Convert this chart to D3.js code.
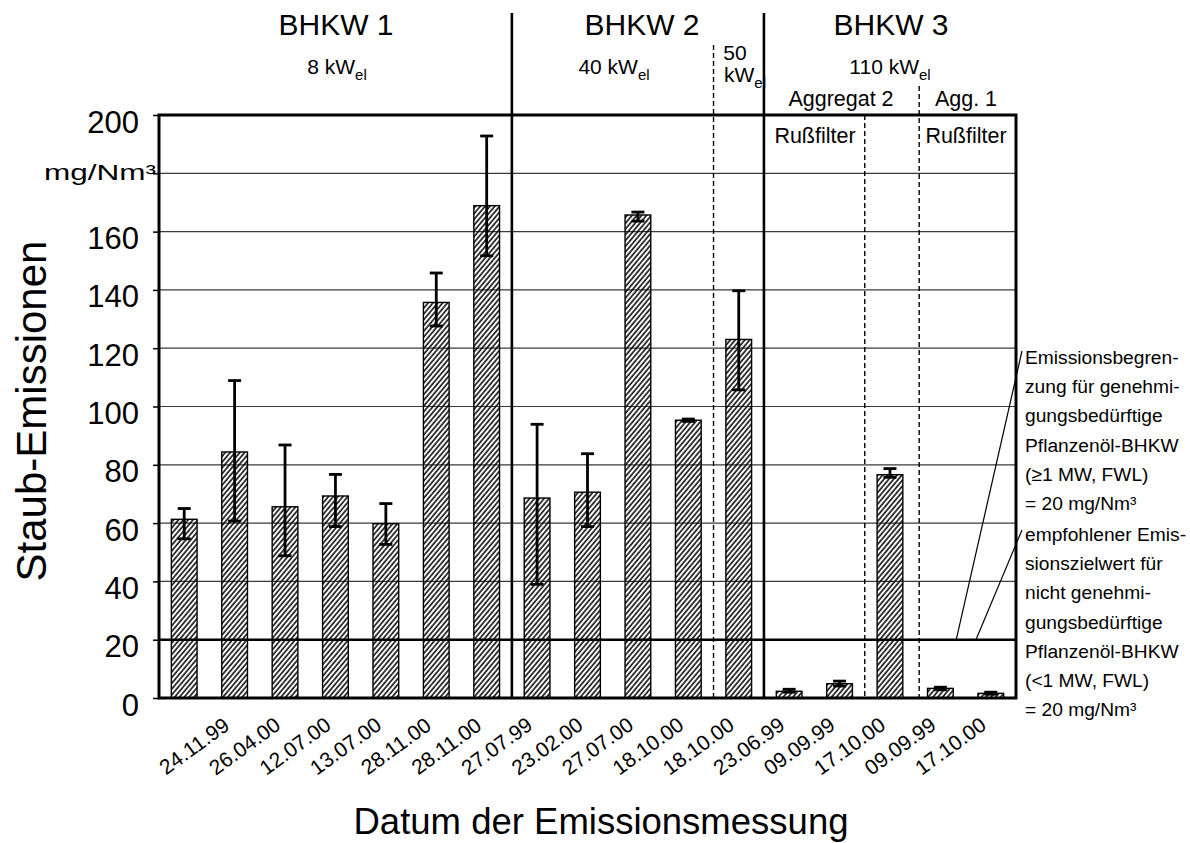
<!DOCTYPE html>
<html>
<head>
<meta charset="utf-8">
<script src="https://cdn.jsdelivr.net/npm/d3@7"></script>
<style>
  html, body { margin: 0; padding: 0; background: #fff; }
  svg { display: block; font-family: "Liberation Sans", Arial, Helvetica, sans-serif; }
</style>
</head>
<body>
<svg id="chart" width="1190" height="843"></svg>
<script>
// Dust emissions of three plant-oil CHP units (mg/Nm³), one bar per measurement
const measurements = ["B1-a", "B1-b", "B1-c", "B1-d", "B1-e", "B1-f", "B1-g",
                      "B2-a", "B2-b", "B2-c", "B2-d", "B2-e",
                      "B3-a", "B3-b", "B3-c", "B3-d", "B3-e"];
const dust    = [61.3, 84.4, 65.6, 69.3, 59.8, 135.7, 168.9, 68.6, 70.6, 165.7, 95.3, 123.0, 2.3, 4.9, 76.6, 3.3, 1.6];
const dustMax = [65.0, 108.9, 86.8, 76.7, 66.7, 145.8, 192.8, 93.9, 83.8, 166.7, 95.7, 139.7, 3.0, 5.8, 78.7, 3.7, 2.0];
const dustMin = [54.6, 60.7, 48.8, 58.8, 52.7, 127.6, 151.7, 39.0, 58.8, 163.6, 94.9, 105.7, 2.0, 4.1, 75.7, 2.8, 1.3];
// measurement dates printed under the first sixteen positions
const dateLabels = ["24.11.99", "26.04.00", "12.07.00", "13.07.00", "28.11.00", "28.11.00", "27.07.99", "23.02.00",
                    "27.07.00", "18.10.00", "18.10.00", "23.06.99", "09.09.99", "17.10.00", "09.09.99", "17.10.00"];
const yTicks = [0, 20, 40, 60, 80, 100, 120, 140, 160, 180, 200];
const yTickLabels = ["0", "20", "40", "60", "80", "100", "120", "140", "160", "mg/Nm³", "200"];
const limitValue = 20;
const limitNoteA = ["Emissionsbegren-", "zung für genehmi-", "gungsbedürftige", "Pflanzenöl-BHKW", "(≥1 MW, FWL)", "= 20 mg/Nm³"];
const limitNoteB = ["empfohlener Emis-", "sionszielwert für", "nicht genehmi-", "gungsbedürftige", "Pflanzenöl-BHKW", "(<1 MW, FWL)", "= 20 mg/Nm³"];

const svg = d3.select("#chart");
const plotLeft = 159, plotRight = 1016, plotTop = 115, plotBottom = 698;

const x = d3.scaleBand().domain(measurements).range([plotLeft, plotRight]).paddingInner(0.49).paddingOuter(0.245);
const y = d3.scaleLinear().domain([0, 200]).range([plotBottom, plotTop]);
const step = x.step();
const gapAfter = i => x(measurements[i]) + x.bandwidth() + (step - x.bandwidth()) / 2;

// diagonal hatching for the bars
const defs = svg.append("defs");
defs.append("pattern")
  .attr("id", "hatch").attr("patternUnits", "userSpaceOnUse")
  .attr("width", 3.7).attr("height", 10)
  .attr("patternTransform", "rotate(40)")
  .append("line").attr("x1", 1).attr("x2", 1).attr("y1", 0).attr("y2", 10)
  .attr("stroke", "#000").attr("stroke-width", 1.5);

// horizontal grid
svg.append("g").selectAll("line")
  .data(yTicks.filter(v => v > 0 && v < 200 && v !== limitValue))
  .join("line")
  .attr("x1", plotLeft).attr("x2", plotRight)
  .attr("y1", d => y(d)).attr("y2", d => y(d))
  .attr("stroke", "#3a3a3a").attr("stroke-width", 1.2);

// y axis with outward ticks
const yAxis = d3.axisLeft(y).tickValues(yTicks).tickSize(6).tickPadding(14)
  .tickFormat((d, i) => yTickLabels[i]);
const gy = svg.append("g").attr("transform", `translate(${plotLeft},0)`).call(yAxis);
gy.select(".domain").remove();
gy.selectAll(".tick line").attr("stroke", "#000").attr("stroke-width", 1.5);
gy.selectAll(".tick text")
  .attr("fill", "#000")
  .attr("font-family", "Liberation Sans, Arial, sans-serif")
  .attr("font-size", d => d === 180 ? 22 : 31)
  .attr("dy", d => d === 180 ? "0.28em" : "0.55em")
  .attr("x", d => d === 180 ? -3 : -20);
gy.selectAll(".tick").filter(d => d === 180).select("text")
  .attr("textLength", 112).attr("lengthAdjust", "spacingAndGlyphs");

// bars
svg.append("g").selectAll("rect")
  .data(measurements)
  .join("rect")
  .attr("x", d => x(d))
  .attr("width", x.bandwidth())
  .attr("y", (d, i) => y(dust[i]))
  .attr("height", (d, i) => y(0) - y(dust[i]))
  .attr("fill", "url(#hatch)")
  .attr("stroke", "#000").attr("stroke-width", 1.4);

// error bars (min / max of the single readings)
const eb = svg.append("g").attr("stroke", "#000").attr("stroke-width", 2.8);
measurements.forEach((m, i) => {
  const cx = x(m) + x.bandwidth() / 2;
  eb.append("line").attr("x1", cx).attr("x2", cx).attr("y1", y(dustMin[i])).attr("y2", y(dustMax[i]));
  [dustMin[i], dustMax[i]].forEach(v =>
    eb.append("line").attr("x1", cx - 6.5).attr("x2", cx + 6.5).attr("y1", y(v)).attr("y2", y(v)));
});

// 20 mg/Nm³ limit line
svg.append("line")
  .attr("x1", plotLeft).attr("x2", plotRight)
  .attr("y1", y(limitValue)).attr("y2", y(limitValue))
  .attr("stroke", "#000").attr("stroke-width", 2.6);

// plant separators
const sep = svg.append("g").attr("stroke", "#000");
[6, 11].forEach(i => sep.append("line")
  .attr("x1", gapAfter(i)).attr("x2", gapAfter(i)).attr("y1", 13).attr("y2", plotBottom)
  .attr("stroke-width", 2.6));
[[10, 45, 0], [13, plotTop, 0], [14, 86, 4]].forEach(([i, y0, dx]) => sep.append("line")
  .attr("x1", gapAfter(i) + dx).attr("x2", gapAfter(i) + dx).attr("y1", y0).attr("y2", plotBottom)
  .attr("stroke-width", 1.4).attr("stroke-dasharray", "5,3"));

// frame
svg.append("rect")
  .attr("x", plotLeft).attr("y", plotTop).attr("width", plotRight - plotLeft).attr("height", plotBottom - plotTop)
  .attr("fill", "none").attr("stroke", "#000").attr("stroke-width", 3);

// date labels
const xl = svg.append("g").attr("font-size", 21).attr("fill", "#000");
dateLabels.forEach((t, i) => {
  const cx = x(measurements[i]) + x.bandwidth() / 2 + 10;
  xl.append("text")
    .attr("transform", `translate(${cx},746) rotate(-36)`)
    .attr("text-anchor", "middle").attr("dy", "0.35em")
    .text(t);
});

// axis titles
svg.append("text")
  .attr("x", 601).attr("y", 834)
  .attr("text-anchor", "middle").attr("font-size", 36.5)
  .text("Datum der Emissionsmessung");
svg.append("text")
  .attr("transform", "translate(46,411) rotate(-90)")
  .attr("text-anchor", "middle").attr("font-size", 42)
  .text("Staub-Emissionen");

// plant headers
const head = svg.append("g").attr("fill", "#000").attr("text-anchor", "middle");
const bigTitles = [["BHKW 1", 336], ["BHKW 2", 642], ["BHKW 3", 891]];
bigTitles.forEach(([t, cx]) => head.append("text").attr("x", cx).attr("y", 35).attr("font-size", 30).text(t));

function power(g, cx, yb, main) {
  const t = g.append("text").attr("x", cx).attr("y", yb).attr("font-size", 21);
  t.append("tspan").text(main);
  t.append("tspan").attr("font-size", 15).attr("dy", 6).text("el");
}
power(head, 337, 74, "8 kW");
power(head, 614, 74, "40 kW");
power(head, 890, 74, "110 kW");
head.append("text").attr("x", 735).attr("y", 60).attr("font-size", 21).text("50");
const kw50 = head.append("text").attr("x", 724).attr("y", 82).attr("font-size", 21).attr("text-anchor", "start");
kw50.append("tspan").text("kW");
kw50.append("tspan").attr("font-size", 15).attr("dy", 6).text("el");

head.append("text").attr("x", 841).attr("y", 106).attr("font-size", 21.5).text("Aggregat 2");
head.append("text").attr("x", 966).attr("y", 106).attr("font-size", 21.5).text("Agg. 1");
head.append("text").attr("x", 815).attr("y", 143).attr("font-size", 21.5).text("Rußfilter");
head.append("text").attr("x", 966).attr("y", 143).attr("font-size", 21.5).text("Rußfilter");

// notes on the limit line
const noteX = 1025;
const na = svg.append("g").attr("font-size", 19.2).attr("fill", "#000");
limitNoteA.forEach((t, i) => na.append("text").attr("x", noteX).attr("y", 364 + i * 29.2).text(t));
limitNoteB.forEach((t, i) => na.append("text").attr("x", noteX).attr("y", 541 + i * 29.2).text(t));
const leader = svg.append("g").attr("stroke", "#000").attr("stroke-width", 1.2);
leader.append("line")
  .attr("x1", x(measurements[15]) + x.bandwidth() + 3).attr("y1", y(limitValue))
  .attr("x2", noteX - 3).attr("y2", 351);
leader.append("line")
  .attr("x1", x(measurements[16]) - 2).attr("y1", y(limitValue))
  .attr("x2", noteX - 3).attr("y2", 530);
</script>
</body>
</html>
